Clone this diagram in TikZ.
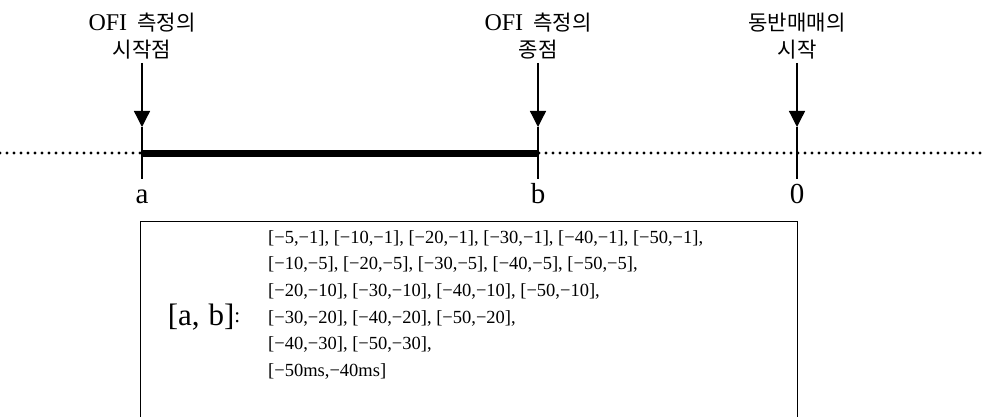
\documentclass[tikz,border=0pt]{standalone}
\usepackage{fontspec}
\setmainfont{Liberation Serif}
\newfontfamily\kr[Scale=0.88]{Noto Sans CJK KR}
\usetikzlibrary{arrows.meta}
\tikzset{
  head/.style={font=\fontsize{24}{30}\selectfont, align=center, inner sep=0pt},
  pointlabel/.style={font=\fontsize{29}{30}\selectfont, inner sep=0pt, anchor=base},
  marker/.style={line width=1.3pt, -{Triangle[width=16pt,length=16pt]}},
  tick/.style={line width=1.3pt},
  dotline/.style={line width=3.2pt, line cap=round, dash pattern=on 0pt off 7pt},
  span/.style={line width=7pt},
  listtext/.style={font=\fontsize{18.5}{26.7}\selectfont, align=left, anchor=north west, inner sep=0pt},
}
\begin{document}
\begin{tikzpicture}[x=1pt,y=-1pt]
\useasboundingbox (0,0) rectangle (987,417);
% time axis
\coordinate (left) at (0,153);
\coordinate (right) at (987,153);
\coordinate (pa) at (142,153);
\coordinate (pb) at (538,153);
\coordinate (p0) at (797,153);
\draw[dotline] (left) -- (right);
\draw[span] (pa) -- (pb);
% headings
\node[head] (ha) at (142,36) {OFI\hspace{10pt}{\kr 측정의}\\[-3pt]{\kr 시작점}};
\node[head] (hb) at (538,36) {OFI\hspace{10pt}{\kr 측정의}\\[-3pt]{\kr 종점}};
\node[head] (h0) at (797,36) {{\kr 동반매매의}\\[-3pt]{\kr 시작}};
% arrow heads and tick marks
\coordinate (ta) at (142,63);
\coordinate (tb) at (538,63);
\coordinate (t0) at (797,63);
\coordinate (ma) at (142,127);
\coordinate (mb) at (538,127);
\coordinate (m0) at (797,127);
\coordinate (ea) at (142,179);
\coordinate (eb) at (538,179);
\coordinate (e0) at (797,179);
\draw[marker] (ta) -- (ma);
\draw[marker] (tb) -- (mb);
\draw[marker] (t0) -- (m0);
\draw[tick] (ma) -- (ea);
\draw[tick] (mb) -- (eb);
\draw[tick] (m0) -- (e0);
% point labels
\node[pointlabel] (la) at (142,203) {a};
\node[pointlabel] (lb) at (538,203) {b};
\node[pointlabel] (l0) at (797,203) {0};
% interval box
\draw[line width=1pt] (140,430) |- (797,221) -- (797,430);
\node[font=\fontsize{31}{32}\selectfont, inner sep=0pt] (ab) at (204,317) {[a,\hspace{9pt}b]\raisebox{3pt}{\fontsize{21}{21}\selectfont:}};
\node[listtext] (list) at (268,230) {%
{}[−5,−1], [−10,−1], [−20,−1], [−30,−1], [−40,−1], [−50,−1],\\
{}[−10,−5], [−20,−5], [−30,−5], [−40,−5], [−50,−5],\\
{}[−20,−10], [−30,−10], [−40,−10], [−50,−10],\\
{}[−30,−20], [−40,−20], [−50,−20],\\
{}[−40,−30], [−50,−30],\\
{}[−50ms,−40ms]};
\end{tikzpicture}
\end{document}
